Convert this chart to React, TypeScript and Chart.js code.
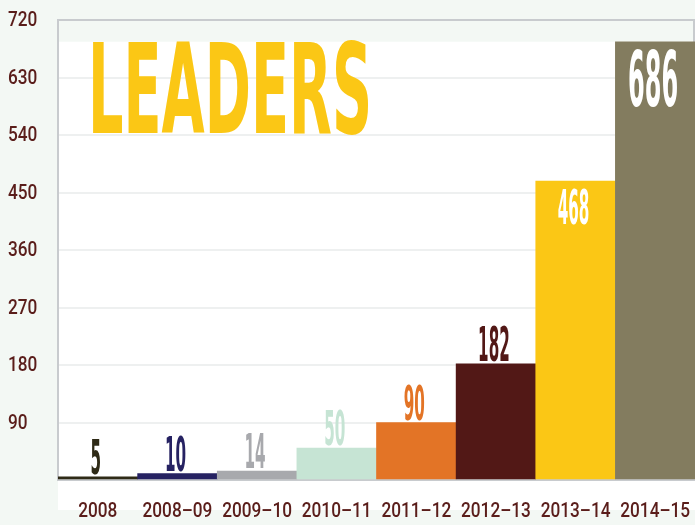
import React, { useEffect, useRef } from "react";
import { Chart, registerables } from "chart.js";

Chart.register(...registerables);

const categories = ["2008", "2008–09", "2009–10", "2010–11", "2011–12", "2012–13", "2013–14", "2014–15"];
const leaders = [5, 10, 14, 50, 90, 182, 468, 686];
const barColors = ["#2e2a16", "#262262", "#a8a9ad", "#c6e4d4", "#e37426", "#521816", "#fbc715", "#837c5f"];
const yMax = 720;
const yStep = 90;
const titleText = "LEADERS";

const HEAVY = "'DejaVu Sans Condensed', 'DejaVu Sans', sans-serif";
const TICKFONT = "Roboto, 'Liberation Sans', sans-serif";
const LABEL_COLOR = "#5a1d1a";
const FRAME_COLOR = "#c8cbce";

function drawCondensed(ctx: any, text: string, x: number, y: number, sx: number) {
  ctx.save();
  ctx.translate(x, y);
  ctx.scale(sx, 1);
  ctx.fillText(text, 0, 0);
  ctx.restore();
}

const customPlugin = {
  id: "customPlugin",
  beforeDraw(chart: any) {
    const { ctx, chartArea, width, height } = chart;
    const y = chart.scales.y;
    ctx.save();
    ctx.fillStyle = "#f3f8f4";
    ctx.fillRect(0, 0, width, height);
    const topWhite = y.getPixelForValue(Math.max(...leaders));
    ctx.fillStyle = "#ffffff";
    ctx.fillRect(chartArea.left, topWhite, chartArea.right - chartArea.left, chartArea.bottom + 30 - topWhite);
    ctx.restore();
  },
  beforeDatasetsDraw(chart: any) {
    const { ctx, chartArea } = chart;
    ctx.save();
    ctx.strokeStyle = FRAME_COLOR;
    ctx.lineWidth = 2;
    ctx.beginPath();
    ctx.moveTo(chartArea.left, chartArea.top);
    ctx.lineTo(chartArea.right - 1, chartArea.top);
    ctx.lineTo(chartArea.right - 1, chartArea.bottom);
    ctx.stroke();
    // title
    ctx.font = `bold 125px ${HEAVY}`;
    ctx.fillStyle = "#fbc715";
    ctx.textAlign = "left";
    ctx.textBaseline = "alphabetic";
    const w = ctx.measureText(titleText).width;
    drawCondensed(ctx, titleText, chartArea.left + 30, chartArea.top + 113, 284 / w);
    ctx.restore();
  },
  afterDatasetsDraw(chart: any) {
    const { ctx } = chart;
    const meta = chart.getDatasetMeta(0);
    const maxV = Math.max(...leaders);
    meta.data.forEach((bar: any, i: number) => {
      const v = leaders[i];
      const inside = v > 400;
      const big = v === maxV;
      const size = big ? 76 : 48;
      const text = String(v);
      ctx.save();
      ctx.font = `bold ${size}px ${HEAVY}`;
      ctx.textAlign = "center";
      ctx.textBaseline = "alphabetic";
      ctx.fillStyle = inside ? "#ffffff" : barColors[i];
      const base = inside ? bar.y + (big ? 10 : 8) + size * 0.72 : bar.y - 3;
      const sx = (0.22 * size * text.length) / ctx.measureText(text).width;
      drawCondensed(ctx, text, bar.x - 2, base, sx);
      ctx.restore();
    });
  },
  afterDraw(chart: any) {
    const { ctx, chartArea } = chart;
    const x = chart.scales.x;
    const y = chart.scales.y;
    ctx.save();
    ctx.fillStyle = LABEL_COLOR;
    ctx.font = `500 21px ${TICKFONT}`;
    ctx.textBaseline = "middle";
    ctx.textAlign = "left";
    y.ticks.forEach((t: any) => {
      if (t.value === 0) return;
      drawCondensed(ctx, String(t.value), 8, y.getPixelForValue(t.value) + 1, 0.82);
    });
    ctx.textAlign = "center";
    x.getLabels().forEach((lab: string, i: number) => {
      drawCondensed(ctx, lab, x.getPixelForTick(i), chartArea.bottom + 32, 0.82);
    });
    ctx.restore();
  },
};

export default function App() {
  const ref = useRef<HTMLCanvasElement>(null);
  useEffect(() => {
    document.body.style.overflow = "hidden";
    const chart = new Chart(ref.current as HTMLCanvasElement, {
      type: "bar",
      data: {
        labels: categories,
        datasets: [
          {
            data: leaders,
            backgroundColor: barColors,
            borderWidth: 0,
            barPercentage: 1,
            categoryPercentage: 1,
          },
        ],
      },
      options: {
        responsive: false,
        animation: false,
        layout: { padding: { left: 8, top: 20, right: 0, bottom: 0 } },
        plugins: { legend: { display: false }, tooltip: { enabled: false } },
        scales: {
          x: {
            grid: { display: false },
            border: { display: true, color: FRAME_COLOR, width: 2 },
            ticks: { display: false },
            afterFit(scale: any) {
              scale.height = 45;
            },
          },
          y: {
            min: 0,
            max: yMax,
            grid: { color: "#eef0f0", lineWidth: 2, drawTicks: false },
            border: { display: true, color: FRAME_COLOR, width: 2 },
            ticks: { display: false, stepSize: yStep },
            afterFit(scale: any) {
              scale.width = 50;
            },
          },
        },
      },
      plugins: [customPlugin],
    } as any);
    return () => chart.destroy();
  }, []);
  return (
    <div style={{ position: "fixed", left: 0, top: 0, width: 695, height: 525 }}>
      <canvas ref={ref} width={695} height={525} style={{ display: "block" }} />
    </div>
  );
}
